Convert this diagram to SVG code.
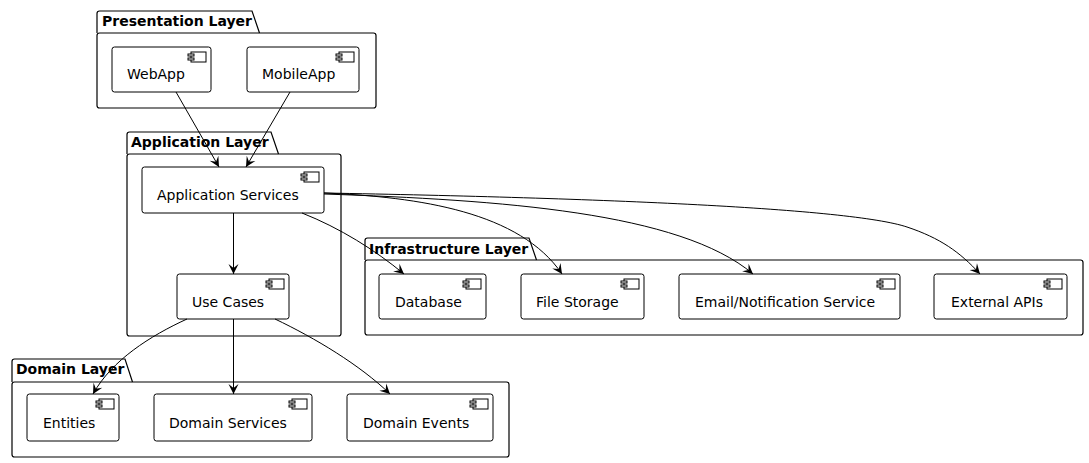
<svg xmlns="http://www.w3.org/2000/svg" width="1089" height="463" viewBox="0 0 1089 463">
<style>
.pkg{fill:none;stroke:#000;stroke-width:1.2}
.comp{fill:#fff;stroke:#000;stroke-width:1}
.icon rect{fill:#fff;stroke:#000;stroke-width:1}
.title{font-family:"DejaVu Sans",sans-serif;font-size:14px;font-weight:bold;fill:#000}
.label{font-family:"DejaVu Sans",sans-serif;font-size:14px;fill:#000}
.edge{fill:none;stroke:#000;stroke-width:1;marker-end:url(#arr)}
</style>
<defs>
<marker id="arr" markerUnits="userSpaceOnUse" markerWidth="10" markerHeight="10" refX="10" refY="5" orient="auto" overflow="visible">
<path d="M0,0 L10,5 L0,10 L4,5 Z" fill="#000"/>
</marker>
<g id="icon" class="icon">
<rect x="0" y="0" width="15" height="10"/>
<rect x="-3" y="2" width="6" height="2"/>
<rect x="-3" y="6" width="6" height="2"/>
</g>
</defs>
<rect width="1089" height="463" fill="#fff"/>

<g id="presentation-layer">
<path class="pkg" d="M97,33 L97,13.5 Q97,11 99.5,11 L252,11 L259.5,33"/>
<rect class="pkg" x="97" y="33" width="279" height="75" rx="2.5"/>
<text class="title" x="102" y="26">Presentation Layer</text>
</g>
<g id="application-layer">
<path class="pkg" d="M127,154 L127,134.5 Q127,132 129.5,132 L271,132 L278.5,154"/>
<rect class="pkg" x="127" y="154" width="214" height="182" rx="2.5"/>
<text class="title" x="131" y="147">Application Layer</text>
</g>
<g id="infrastructure-layer">
<path class="pkg" d="M365,260 L365,240.5 Q365,238 367.5,238 L529,238 L536.5,260"/>
<rect class="pkg" x="365" y="260" width="718" height="75" rx="2.5"/>
<text class="title" x="369" y="254">Infrastructure Layer</text>
</g>
<g id="domain-layer">
<path class="pkg" d="M12,382 L12,361.5 Q12,359 14.5,359 L125,359 L132.5,382"/>
<rect class="pkg" x="12" y="382" width="497" height="75" rx="2.5"/>
<text class="title" x="16" y="374">Domain Layer</text>
</g>

<g id="webapp">
<rect class="comp" x="112" y="47" width="99" height="45" rx="2.5"/>
<use href="#icon" x="191" y="52"/>
<text class="label" x="127" y="79">WebApp</text>
</g>
<g id="mobileapp">
<rect class="comp" x="247" y="47" width="112" height="45" rx="2.5"/>
<use href="#icon" x="339" y="52"/>
<text class="label" x="262" y="79">MobileApp</text>
</g>
<g id="application-services">
<rect class="comp" x="142" y="167" width="182" height="46" rx="2.5"/>
<use href="#icon" x="304" y="172"/>
<text class="label" x="157" y="200">Application Services</text>
</g>
<g id="use-cases">
<rect class="comp" x="177" y="274" width="112" height="45" rx="2.5"/>
<use href="#icon" x="269" y="279"/>
<text class="label" x="192" y="307">Use Cases</text>
</g>
<g id="database">
<rect class="comp" x="379" y="274" width="107" height="45" rx="2.5"/>
<use href="#icon" x="466" y="279"/>
<text class="label" x="395" y="307">Database</text>
</g>
<g id="file-storage">
<rect class="comp" x="521" y="274" width="123" height="45" rx="2.5"/>
<use href="#icon" x="624" y="279"/>
<text class="label" x="536" y="307">File Storage</text>
</g>
<g id="email-notification-service">
<rect class="comp" x="679" y="274" width="221" height="45" rx="2.5"/>
<use href="#icon" x="880" y="279"/>
<text class="label" x="695" y="307">Email/Notification Service</text>
</g>
<g id="external-apis">
<rect class="comp" x="934" y="274" width="133" height="45" rx="2.5"/>
<use href="#icon" x="1047" y="279"/>
<text class="label" x="951" y="307">External APIs</text>
</g>
<g id="entities">
<rect class="comp" x="27" y="394" width="92" height="47" rx="2.5"/>
<use href="#icon" x="99" y="399"/>
<text class="label" x="43" y="428">Entities</text>
</g>
<g id="domain-services">
<rect class="comp" x="154" y="394" width="158" height="47" rx="2.5"/>
<use href="#icon" x="292" y="399"/>
<text class="label" x="169" y="428">Domain Services</text>
</g>
<g id="domain-events">
<rect class="comp" x="347" y="394" width="146" height="47" rx="2.5"/>
<use href="#icon" x="473" y="399"/>
<text class="label" x="363" y="428">Domain Events</text>
</g>

<g id="connectors">
<path class="edge" d="M176,92 L219,167"/>
<path class="edge" d="M290,92 L246,167"/>
<path class="edge" d="M233.5,213 L233.5,274"/>
<path class="edge" d="M302,213 C340,228 375,250 404,274"/>
<path class="edge" d="M324,193 C420,197 520,212 562,274"/>
<path class="edge" d="M324,194 C500,200 680,212 753,274"/>
<path class="edge" d="M324,193 C600,198 850,208 907,227 C940,238 960,252 980,274"/>
<path class="edge" d="M187,319 C150,336 112,360 93,394"/>
<path class="edge" d="M233.5,319 L233.5,394"/>
<path class="edge" d="M275,319 C315,338 360,365 390,394"/>
</g>
</svg>
